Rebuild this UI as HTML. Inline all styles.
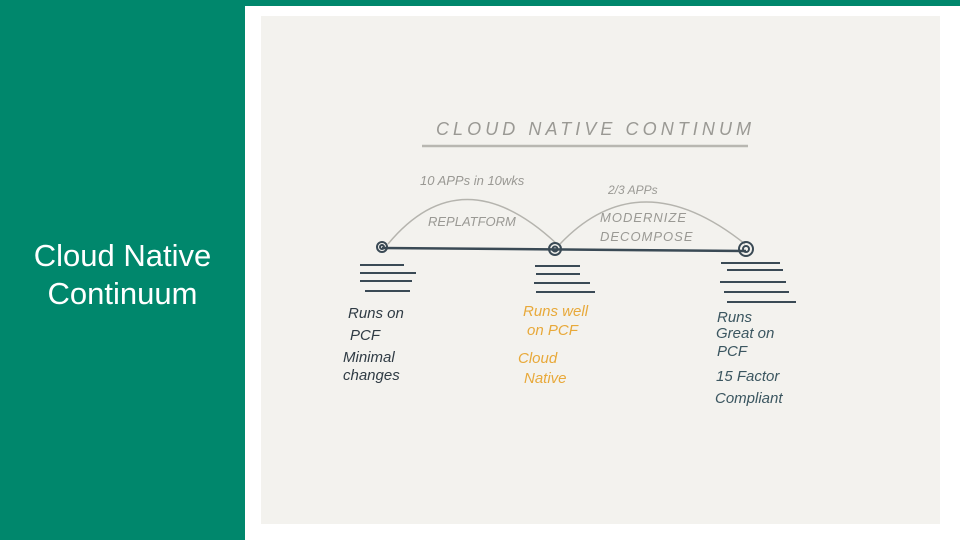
<!DOCTYPE html>
<html><head><meta charset="utf-8"><style>
body{margin:0;width:960px;height:540px;overflow:hidden;background:#fff;position:relative;font-family:"Liberation Sans",sans-serif}
.side{position:absolute;left:0;top:0;width:245px;height:540px;background:#00876c}
.top{position:absolute;left:0;top:0;width:960px;height:6px;background:#00876c}
.t{position:absolute;left:0;width:245px;top:237px;text-align:center;color:#fff;font-size:31px;line-height:38px}
.img{position:absolute;left:261px;top:16px;width:679px;height:508px;background:#f3f2ee}
svg{position:absolute;left:0;top:0}
</style></head><body>
<div class="side"></div><div class="top"></div>
<div class="t">Cloud Native<br>Continuum</div>
<div class="img"></div>
<svg width="960" height="540" font-family="Liberation Sans, sans-serif">
<text x="436" y="135" font-size="18" fill="#9a9994" letter-spacing="3" font-style="italic" textLength="318">CLOUD  NATIVE  CONTINUM</text>
<line x1="422" y1="146" x2="748" y2="146" stroke="#b8b7b1" stroke-width="2.5"/>
<text x="420" y="185" font-size="13" fill="#9a9994" font-style="italic">10 APPs in 10wks</text>
<text x="608" y="194" font-size="12" fill="#9a9994" font-style="italic">2/3 APPs</text>
<text x="428" y="226" font-size="13" fill="#9a9994" font-style="italic">REPLATFORM</text>
<text x="600" y="222" font-size="13" fill="#9a9994" letter-spacing="1" font-style="italic">MODERNIZE</text>
<text x="600" y="241" font-size="13" fill="#9a9994" letter-spacing="1" font-style="italic">DECOMPOSE</text>
<path d="M388 244 Q462 155 557 244" fill="none" stroke="#b5b4ae" stroke-width="1.5"/>
<path d="M560 244 Q640 160 745 244" fill="none" stroke="#b5b4ae" stroke-width="1.5"/>
<line x1="382" y1="248" x2="746" y2="251" stroke="#3a4a55" stroke-width="2.5"/>
<g fill="none" stroke="#3a4a55" stroke-width="2">
<circle cx="382" cy="247" r="5"/><circle cx="382" cy="247" r="2"/>
<circle cx="555" cy="249" r="6"/><circle cx="555" cy="249" r="2.5"/>
<circle cx="746" cy="249" r="7"/><circle cx="746" cy="249" r="3"/>
</g>
<g stroke="#3a4a55" stroke-width="2">
<line x1="360" y1="265" x2="404" y2="265"/><line x1="360" y1="273" x2="416" y2="273"/><line x1="360" y1="281" x2="412" y2="281"/><line x1="365" y1="291" x2="410" y2="291"/>
<line x1="535" y1="266" x2="580" y2="266"/><line x1="536" y1="274" x2="580" y2="274"/><line x1="534" y1="283" x2="590" y2="283"/><line x1="536" y1="292" x2="595" y2="292"/>
<line x1="721" y1="263" x2="780" y2="263"/><line x1="727" y1="270" x2="783" y2="270"/><line x1="720" y1="282" x2="786" y2="282"/><line x1="724" y1="292" x2="789" y2="292"/><line x1="727" y1="302" x2="796" y2="302"/>
</g>
<g font-size="15" font-style="italic" fill="#2f3b44">
<text x="348" y="318">Runs on</text><text x="350" y="340">PCF</text>
<text x="343" y="362">Minimal</text><text x="343" y="380">changes</text>
</g>
<g font-size="15" font-style="italic" fill="#e8a93a">
<text x="523" y="316">Runs well</text><text x="527" y="335">on PCF</text>
<text x="518" y="363">Cloud</text><text x="524" y="383">Native</text>
</g>
<g font-size="15" font-style="italic" fill="#3b5660">
<text x="717" y="322">Runs</text><text x="716" y="338">Great on</text><text x="717" y="356">PCF</text>
<text x="716" y="381">15 Factor</text><text x="715" y="403">Compliant</text>
</g>
</svg>
</body></html>
